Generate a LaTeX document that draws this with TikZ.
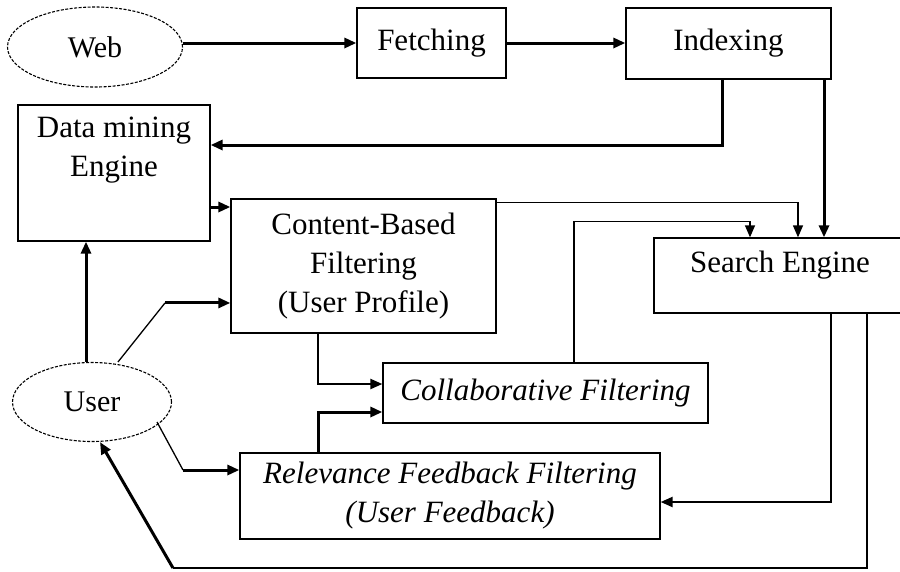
\documentclass[tikz,border=0pt]{standalone}
\usepackage{fontspec}
\setmainfont{Liberation Serif}
\usetikzlibrary{positioning}
\usetikzlibrary{arrows.meta}
\usetikzlibrary{shapes.geometric}
\tikzset{box/.style = {draw, rectangle, line width=1.3, inner sep=0, align=center}}
\tikzset{oval/.style = {draw, ellipse, line width=1.1, dash pattern=on 3pt off 1.5pt, inner sep=0, font=\fontsize{30}{36}\selectfont}}
\tikzset{ital/.style = {font=\fontsize{31}{39}\selectfont\itshape}}
\tikzset{thinline/.style = {line width=1.3}}
\tikzset{medline/.style = {line width=2.2}}
\tikzset{thickline/.style = {line width=3}}
\tikzset{arr/.style = {-{Triangle[length=12pt,width=10pt]}}}

\begin{document}
\begin{tikzpicture}[x=1pt, y=-1pt, font=\fontsize{31}{39}\selectfont]
      \clip (0,0) rectangle (900,571);
      \fill[white] (0,0) rectangle (900,571);
      \node[oval, minimum width=175, minimum height=80] (web) at (95,47) {Web};
      \node[box, minimum width=149, minimum height=70] (fetch) at (431.5,43) {Fetching};
      \node[box, minimum width=205, minimum height=71] (index) at (728.5,43.5) {Indexing};
      \node[box, minimum width=192, minimum height=136] (dm) at (114,173) {};
      \node[align=center] (dmtext) at (114,150) {Data mining\\Engine};
      \node[box, minimum width=265, minimum height=134] (cb) at (363.5,266) {Content-Based\\Filtering\\(User Profile)};
      \node[box, minimum width=260, minimum height=75] (search) at (784,275.5) {};
      \node (setext) at (780,265) {Search Engine};
      \node[box, ital, minimum width=325, minimum height=60] (coll) at (545.5,393) {Collaborative Filtering};
      \node[box, ital, minimum width=420, minimum height=86] (rel) at (450,496) {Relevance Feedback Filtering\\(User Feedback)};
      \node[oval, minimum width=159, minimum height=79] (user) at (92,402) {User};

      \draw[thickline, arr] (web.east |- fetch.west) -- (fetch.west);
      \draw[thickline, arr] (fetch.east) -- (fetch.east -| index.west);
      \coordinate (ia) at ([xshift=-6.5]index.south);
      \coordinate (da) at ([yshift=28]dm.east);
      \draw[thickline, arr] (ia) |- (da);
      \coordinate (ib) at ([xshift=95.5]index.south);
      \draw[thickline, arr] (ib) -- (ib |- search.north);
      \coordinate (dc) at ([yshift=-34]dm.east);
      \draw[thickline, arr] (dc) -- (dc -| cb.west);
      \coordinate (cs) at ([yshift=-4]cb.north east);
      \coordinate (sb) at ([xshift=14]search.north);
      \draw[thinline, arr] (cs) -| (sb);
      \coordinate (cls) at ([xshift=28.5]coll.north);
      \coordinate (sa) at ([xshift=-34]search.north);
      \draw[thinline, arr] (cls) -- ++(0,-141) -| (sa);
      \coordinate (cc) at ([xshift=-45.5]cb.south);
      \draw[medline, arr] (cc) |- ([yshift=9]coll.west);
      \coordinate (rc) at ([xshift=-132]rel.north);
      \draw[thickline, arr] (rc) |- ([yshift=-19]coll.west);
      \coordinate (ud) at ([xshift=-6]user.north);
      \draw[thickline, arr] (ud) -- (ud |- dm.south);
      \coordinate (ua) at ([xshift=26]user.north);
      \draw[thinline] (ua) -- ++(47,-59) coordinate (ub);
      \draw[thickline, arr] (ub) -- (ub -| cb.west);
      \coordinate (uc) at ([xshift=65,yshift=-20]user.center);
      \draw[thinline] (uc) -- ++(26,48) coordinate (ue);
      \draw[thickline, arr] (ue) -- (ue -| rel.west);
      \coordinate (sc) at ([xshift=47]search.south);
      \draw[medline, arr] (sc) |- ([yshift=-6]rel.east);
      \coordinate (sd) at ([xshift=83]search.south);
      \coordinate (uf) at (173,568);
      \draw[thinline] (sd) |- (uf);
      \draw[thickline, arr] (uf) -- ([xshift=8]user.south);
\end{tikzpicture}
\end{document}
